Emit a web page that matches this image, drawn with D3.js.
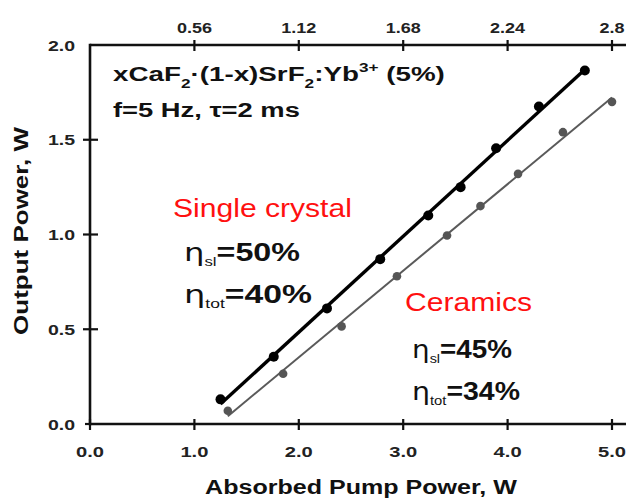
<!DOCTYPE html>
<html><head><meta charset="utf-8">
<script src="https://cdn.jsdelivr.net/npm/d3@7"></script>
<style>html,body{margin:0;padding:0;background:#fff;}svg{display:block;}</style>
</head><body>
<script>
// ---- data ----
const pumpSingle   = [1.25, 1.76, 2.27, 2.78, 3.24, 3.55, 3.89, 4.30, 4.74];
const outputSingle = [0.13, 0.355, 0.61, 0.87, 1.10, 1.25, 1.455, 1.675, 1.865];
const pumpCeramic   = [1.32, 1.85, 2.41, 2.94, 3.42, 3.74, 4.10, 4.53, 5.00];
const outputCeramic = [0.07, 0.265, 0.515, 0.78, 0.995, 1.15, 1.32, 1.54, 1.70];
const xTicks = [0, 1, 2, 3, 4, 5];
const xTickLabels = ["0.0", "1.0", "2.0", "3.0", "4.0", "5.0"];
const topTicks = [0.56, 1.12, 1.68, 2.24, 2.8];
const topTickLabels = ["0.56", "1.12", "1.68", "2.24", "2.8"];
const yTicks = [0, 0.5, 1.0, 1.5, 2.0];
const yTickLabels = ["0.0", "0.5", "1.0", "1.5", "2.0"];

const W = 626, H = 500;
const FONT = "'Liberation Sans', Arial, Helvetica, sans-serif";
const svg = d3.select("body").append("svg").attr("width", W).attr("height", H)
  .style("font-family", FONT);

const x = d3.scaleLinear().domain([0, 5]).range([90, 612]);
const xTop = d3.scaleLinear().domain([0, 2.8]).range([90, 612]);
const y = d3.scaleLinear().domain([0, 2]).range([424, 45]);

// helper: text that is stretched horizontally to a target width or factor
function label(g, build, o) {
  const t = g.append("text")
    .attr("font-size", o.size)
    .attr("font-weight", o.weight || "bold")
    .attr("fill", o.fill || "#111")
    .attr("text-anchor", o.anchor || "start");
  build(t);
  const len = t.node().getComputedTextLength();
  const k = o.w ? o.w / len : (o.k || 1);
  t.attr("transform", `translate(${o.x},${o.y}) rotate(${o.rot || 0}) scale(${k},1)`);
  return t;
}
const plain = s => t => t.text(s);

// ---- axes ----
const axisColor = "#111";
const xAxis = d3.axisBottom(x).tickValues(xTicks).tickSize(0).tickFormat("");
const gx = svg.append("g").attr("transform", `translate(0,${y(0)})`).call(xAxis);
gx.select(".domain").remove();
svg.append("line").attr("x1", x(0)).attr("x2", W).attr("y1", y(0)).attr("y2", y(0))
  .attr("stroke", axisColor).attr("stroke-width", 2.6);
xTicks.forEach((v, i) => {
  svg.append("line").attr("x1", x(v)).attr("x2", x(v)).attr("y1", y(0) - 5).attr("y2", y(0) + 6)
    .attr("stroke", axisColor).attr("stroke-width", 2.2);
  label(svg, plain(xTickLabels[i]), {x: x(v), y: 457, size: 15.5, anchor: "middle", k: 1.3, fill: "#222"});
});

svg.append("line").attr("x1", x(0)).attr("x2", W).attr("y1", y(2)).attr("y2", y(2))
  .attr("stroke", axisColor).attr("stroke-width", 2.6);
topTicks.forEach((v, i) => {
  svg.append("line").attr("x1", xTop(v)).attr("x2", xTop(v)).attr("y1", y(2) - 5).attr("y2", y(2) + 6)
    .attr("stroke", axisColor).attr("stroke-width", 2.2);
  label(svg, plain(topTickLabels[i]), {x: xTop(v), y: 33, size: 15, anchor: "middle", k: 1.2, fill: "#222"});
});

svg.append("line").attr("x1", x(0)).attr("x2", x(0)).attr("y1", y(2) - 1.3).attr("y2", y(0) + 1.3)
  .attr("stroke", axisColor).attr("stroke-width", 2.6);
yTicks.forEach((v, i) => {
  if (v > 0 && v < 2) {
    svg.append("line").attr("x1", x(0) - 7).attr("x2", x(0) + 8).attr("y1", y(v)).attr("y2", y(v))
      .attr("stroke", axisColor).attr("stroke-width", 2.2);
  } else if (v === 0) {
    svg.append("line").attr("x1", x(0) - 5).attr("x2", x(0)).attr("y1", y(v)).attr("y2", y(v))
      .attr("stroke", axisColor).attr("stroke-width", 2.2);
  }
  label(svg, plain(yTickLabels[i]), {x: 75, y: y(v) + 5.5, size: 15, anchor: "end", k: 1.3, fill: "#222"});
});

// axis titles
label(svg, plain("Absorbed Pump Power, W"), {x: 361, y: 494, size: 21, anchor: "middle", w: 312});
label(svg, plain("Output Power, W"), {x: 28, y: 231, size: 21, anchor: "middle", w: 208, rot: -90});

// ---- fitted lines + markers ----
function fit(xs, ys) {
  const mx = d3.mean(xs), my = d3.mean(ys);
  const b = d3.sum(xs, (v, i) => (v - mx) * (ys[i] - my)) / d3.sum(xs, v => (v - mx) ** 2);
  return [b, my - b * mx];
}
function series(xs, ys, lineColor, lw, dotColor, r) {
  const [b, a] = fit(xs, ys);
  const ends = [d3.min(xs), d3.max(xs)].map(v => [v, a + b * v]);
  svg.append("path").datum(ends)
    .attr("d", d3.line().x(d => x(d[0])).y(d => y(d[1])))
    .attr("fill", "none").attr("stroke", lineColor).attr("stroke-width", lw);
  svg.append("g").selectAll("circle").data(xs.map((v, i) => [v, ys[i]])).join("circle")
    .attr("cx", d => x(d[0])).attr("cy", d => y(d[1])).attr("r", r).attr("fill", dotColor);
}
series(pumpCeramic, outputCeramic, "#5a5a5a", 2, "#555", 4.3);
series(pumpSingle, outputSingle, "#000", 3.4, "#000", 5);

// ---- annotations ----
label(svg, t => {
  t.append("tspan").text("xCaF");
  t.append("tspan").attr("font-size", 13).attr("dy", 7).text("2");
  t.append("tspan").attr("dy", -7).text("·(1-x)SrF");
  t.append("tspan").attr("font-size", 13).attr("dy", 7).text("2");
  t.append("tspan").attr("dy", -7).text(":Yb");
  t.append("tspan").attr("font-size", 13).attr("dy", -9).text("3+");
  t.append("tspan").attr("dy", 9).text(" (5%)");
}, {x: 113, y: 81, size: 21, w: 332});
label(svg, plain("f=5 Hz, τ=2 ms"), {x: 113, y: 117, size: 21, w: 187});

label(svg, plain("Single crystal"), {x: 173, y: 217, size: 26, weight: "normal", fill: "#ff1010", w: 179});
label(svg, plain("Ceramics"), {x: 405, y: 311, size: 26, weight: "normal", fill: "#ff1010", w: 127});

function eta(sub, val, o) {
  label(svg, t => {
    t.append("tspan").attr("font-weight", "normal").attr("font-family", "'DejaVu Sans', sans-serif").text("η");
    t.append("tspan").attr("font-size", 13).attr("font-weight", "normal").attr("dy", 5).text(sub);
    t.append("tspan").attr("dy", -5).text("=" + val);
  }, o);
}
eta("sl", "50%", {x: 184, y: 261, size: 25, w: 116});
eta("tot", "40%", {x: 184, y: 303, size: 25, w: 128});
eta("sl", "45%", {x: 412, y: 358, size: 25, w: 100});
eta("tot", "34%", {x: 412, y: 400, size: 25, w: 108});
</script>
</body></html>
